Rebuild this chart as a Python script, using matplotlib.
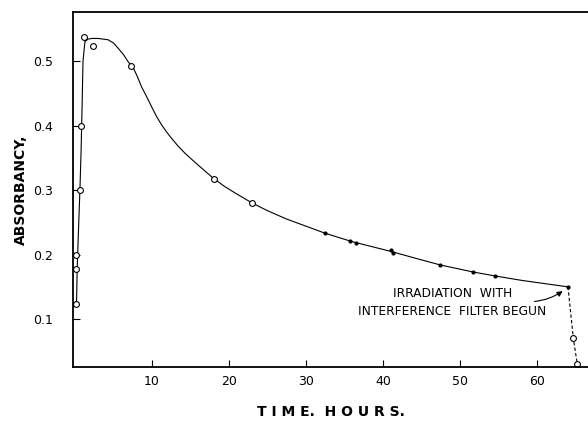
import matplotlib
matplotlib.use("Agg")
import matplotlib.pyplot as plt

# smooth curve (hours, absorbancy)
curve_t = [0.2, 0.3, 0.5, 0.65, 0.8, 0.95, 1.05, 1.3, 1.7, 2.2, 3.0, 4.3,
           5.0, 5.6, 6.3, 6.9, 7.6, 8.1, 8.65, 9.3, 9.96, 10.6, 11.26, 11.9,
           12.56, 13.4, 14.3, 15.4, 16.45, 18.0, 19.5, 21.0, 23.0, 25.0,
           27.5, 30.0, 32.5, 36.0, 41.0, 44.0, 47.4, 51.7, 54.5, 58.0, 61.0,
           64.0]
curve_a = [0.12, 0.18, 0.25, 0.30, 0.36, 0.44, 0.50, 0.530, 0.534, 0.535,
           0.535, 0.533, 0.528, 0.520, 0.510, 0.499, 0.489, 0.476, 0.460,
           0.445, 0.429, 0.414, 0.401, 0.390, 0.380, 0.368, 0.357, 0.345,
           0.334, 0.318, 0.305, 0.294, 0.280, 0.268, 0.255, 0.244, 0.233,
           0.220, 0.205, 0.195, 0.184, 0.173, 0.167, 0.160, 0.155, 0.150]

# drop after irradiation begins
drop_t = [64.0, 64.7, 65.2]
drop_a = [0.150, 0.070, 0.031]

# open circles
circ_t = [0.2, 0.2, 0.2, 0.65, 0.8, 1.2, 2.3, 7.3, 18.1, 23.0, 64.7, 65.2]
circ_a = [0.124, 0.178, 0.200, 0.300, 0.400, 0.537, 0.523, 0.492, 0.317,
          0.280, 0.070, 0.031]

# small dots
dot_t = [32.5, 35.7, 36.5, 41.0, 41.3, 47.4, 51.7, 54.5, 64.0]
dot_a = [0.233, 0.221, 0.218, 0.207, 0.202, 0.184, 0.173, 0.167, 0.150]

xticks = [10, 20, 30, 40, 50, 60]
yticks = [0.1, 0.2, 0.3, 0.4, 0.5]

fig = plt.figure(figsize=(5.88, 4.21), dpi=100)
ax = fig.add_axes([0.124, 0.128, 0.876, 0.8435])

ax.plot(curve_t, curve_a, color="black", lw=0.8)
ax.plot(drop_t, drop_a, color="black", lw=0.8, ls=(0, (3, 2)))
ax.plot(circ_t, circ_a, "o", mfc="white", mec="black", ms=4.2, mew=0.8)
ax.plot(dot_t, dot_a, "o", color="black", ms=2)

ax.set_xlim(-0.26, 66.6)
ax.set_ylim(0.0256, 0.576)
ax.set_xticks(xticks)
ax.set_yticks(yticks)
ax.set_xticklabels([str(t) for t in xticks], fontsize=9)
ax.set_yticklabels(["0.%d" % round(v * 10) for v in yticks], fontsize=9)
ax.tick_params(direction="in", length=5, width=0.8)
ax.tick_params(axis="y", pad=14)
ax.tick_params(axis="x", pad=6)
ax.spines["right"].set_visible(False)
for s in ["left", "bottom", "top"]:
    ax.spines[s].set_linewidth(1.3)

ax.set_ylabel("ABSORBANCY,", fontsize=10, fontweight="bold", labelpad=4)
ax.set_xlabel("T I M E.  H O U R S.", fontsize=10, fontweight="bold", labelpad=12)

ax.text(49.0, 0.125, "IRRADIATION  WITH\nINTERFERENCE  FILTER BEGUN",
        ha="center", va="center", fontsize=8.8, linespacing=1.5)
ax.annotate("", xy=(63.6, 0.146), xytext=(59.3, 0.127),
            arrowprops=dict(arrowstyle="-|>", color="black", lw=0.8,
                            mutation_scale=8,
                            connectionstyle="arc3,rad=0.15"))

fig.savefig("out.png", dpi=100)
